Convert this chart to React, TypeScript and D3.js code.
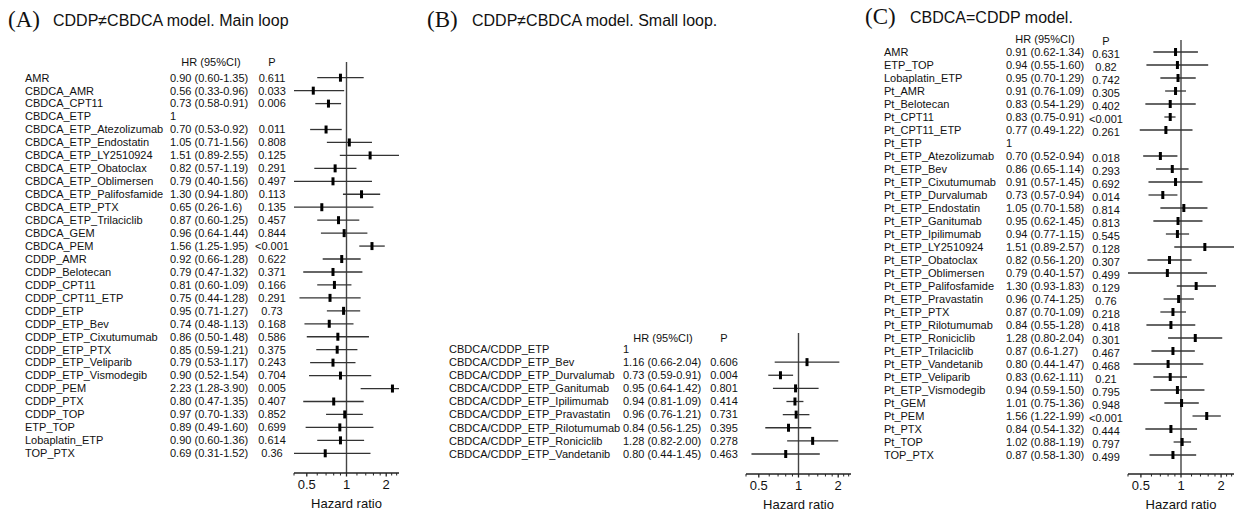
import React from "react";
import * as d3 from "d3";

// panel A: CDDP != CBDCA, main loop
const labelsA = [
  "AMR", "CBDCA_AMR", "CBDCA_CPT11", "CBDCA_ETP", "CBDCA_ETP_Atezolizumab",
  "CBDCA_ETP_Endostatin", "CBDCA_ETP_LY2510924", "CBDCA_ETP_Obatoclax",
  "CBDCA_ETP_Oblimersen", "CBDCA_ETP_Palifosfamide", "CBDCA_ETP_PTX",
  "CBDCA_ETP_Trilaciclib", "CBDCA_GEM", "CBDCA_PEM", "CDDP_AMR", "CDDP_Belotecan",
  "CDDP_CPT11", "CDDP_CPT11_ETP", "CDDP_ETP", "CDDP_ETP_Bev", "CDDP_ETP_Cixutumumab",
  "CDDP_ETP_PTX", "CDDP_ETP_Veliparib", "CDDP_ETP_Vismodegib", "CDDP_PEM",
  "CDDP_PTX", "CDDP_TOP", "ETP_TOP", "Lobaplatin_ETP", "TOP_PTX",
];
const hrA = [
  "0.90 (0.60-1.35)", "0.56 (0.33-0.96)", "0.73 (0.58-0.91)", "1", "0.70 (0.53-0.92)",
  "1.05 (0.71-1.56)", "1.51 (0.89-2.55)", "0.82 (0.57-1.19)", "0.79 (0.40-1.56)",
  "1.30 (0.94-1.80)", "0.65 (0.26-1.6)", "0.87 (0.60-1.25)", "0.96 (0.64-1.44)",
  "1.56 (1.25-1.95)", "0.92 (0.66-1.28)", "0.79 (0.47-1.32)", "0.81 (0.60-1.09)",
  "0.75 (0.44-1.28)", "0.95 (0.71-1.27)", "0.74 (0.48-1.13)", "0.86 (0.50-1.48)",
  "0.85 (0.59-1.21)", "0.79 (0.53-1.17)", "0.90 (0.52-1.54)", "2.23 (1.28-3.90)",
  "0.80 (0.47-1.35)", "0.97 (0.70-1.33)", "0.89 (0.49-1.60)", "0.90 (0.60-1.36)",
  "0.69 (0.31-1.52)",
];
const pA = [
  "0.611", "0.033", "0.006", "", "0.011", "0.808", "0.125", "0.291", "0.497", "0.113",
  "0.135", "0.457", "0.844", "<0.001", "0.622", "0.371", "0.166", "0.291", "0.73",
  "0.168", "0.586", "0.375", "0.243", "0.704", "0.005", "0.407", "0.852", "0.699",
  "0.614", "0.36",
];

// panel B: CDDP != CBDCA, small loop
const labelsB = [
  "CBDCA/CDDP_ETP", "CBDCA/CDDP_ETP_Bev", "CBDCA/CDDP_ETP_Durvalumab",
  "CBDCA/CDDP_ETP_Ganitumab", "CBDCA/CDDP_ETP_Ipilimumab", "CBDCA/CDDP_ETP_Pravastatin",
  "CBDCA/CDDP_ETP_Rilotumumab", "CBDCA/CDDP_ETP_Roniciclib", "CBDCA/CDDP_ETP_Vandetanib",
];
const hrB = [
  "1", "1.16 (0.66-2.04)", "0.73 (0.59-0.91)", "0.95 (0.64-1.42)", "0.94 (0.81-1.09)",
  "0.96 (0.76-1.21)", "0.84 (0.56-1.25)", "1.28 (0.82-2.00)", "0.80 (0.44-1.45)",
];
const pB = ["", "0.606", "0.004", "0.801", "0.414", "0.731", "0.395", "0.278", "0.463"];

// panel C: CBDCA = CDDP
const labelsC = [
  "AMR", "ETP_TOP", "Lobaplatin_ETP", "Pt_AMR", "Pt_Belotecan", "Pt_CPT11",
  "Pt_CPT11_ETP", "Pt_ETP", "Pt_ETP_Atezolizumab", "Pt_ETP_Bev", "Pt_ETP_Cixutumumab",
  "Pt_ETP_Durvalumab", "Pt_ETP_Endostatin", "Pt_ETP_Ganitumab", "Pt_ETP_Ipilimumab",
  "Pt_ETP_LY2510924", "Pt_ETP_Obatoclax", "Pt_ETP_Oblimersen", "Pt_ETP_Palifosfamide",
  "Pt_ETP_Pravastatin", "Pt_ETP_PTX", "Pt_ETP_Rilotumumab", "Pt_ETP_Roniciclib",
  "Pt_ETP_Trilaciclib", "Pt_ETP_Vandetanib", "Pt_ETP_Veliparib", "Pt_ETP_Vismodegib",
  "Pt_GEM", "Pt_PEM", "Pt_PTX", "Pt_TOP", "TOP_PTX",
];
const hrC = [
  "0.91 (0.62-1.34)", "0.94 (0.55-1.60)", "0.95 (0.70-1.29)", "0.91 (0.76-1.09)",
  "0.83 (0.54-1.29)", "0.83 (0.75-0.91)", "0.77 (0.49-1.22)", "1", "0.70 (0.52-0.94)",
  "0.86 (0.65-1.14)", "0.91 (0.57-1.45)", "0.73 (0.57-0.94)", "1.05 (0.70-1.58)",
  "0.95 (0.62-1.45)", "0.94 (0.77-1.15)", "1.51 (0.89-2.57)", "0.82 (0.56-1.20)",
  "0.79 (0.40-1.57)", "1.30 (0.93-1.83)", "0.96 (0.74-1.25)", "0.87 (0.70-1.09)",
  "0.84 (0.55-1.28)", "1.28 (0.80-2.04)", "0.87 (0.6-1.27)", "0.80 (0.44-1.47)",
  "0.83 (0.62-1.11)", "0.94 (0.59-1.50)", "1.01 (0.75-1.36)", "1.56 (1.22-1.99)",
  "0.84 (0.54-1.32)", "1.02 (0.88-1.19)", "0.87 (0.58-1.30)",
];
const pC = [
  "0.631", "0.82", "0.742", "0.305", "0.402", "<0.001", "0.261", "", "0.018", "0.293",
  "0.692", "0.014", "0.814", "0.813", "0.545", "0.128", "0.307", "0.499", "0.129",
  "0.76", "0.218", "0.418", "0.301", "0.467", "0.468", "0.21", "0.795", "0.948",
  "<0.001", "0.444", "0.797", "0.499",
];

const axisDomain = [0.4, 2.5];
const majorTicks = [0.5, 1, 2];
const majorTickLabels = ["0.5", "1", "2"];
const minorTicks = [0.4, 0.6, 0.7, 0.8, 0.9, 1.2, 1.4, 1.6, 1.8, 2.2, 2.4];

const SANS = "'Liberation Sans', Arial, sans-serif";
const SERIF = "'Liberation Serif', 'Times New Roman', serif";
const INK = "#111";

function parseHr(s: string) {
  const m = s.match(/^([\d.]+) \(([\d.]+)-([\d.]+)\)$/);
  if (!m) return null;
  return { hr: +m[1], lo: +m[2], hi: +m[3] };
}

type PanelProps = {
  tag: string;
  title: string;
  titleX: number;
  titleY: number;
  labels: string[];
  hr: string[];
  p: string[];
  labelX: number;
  hrX: number;
  pX: number;
  pDy: number;
  headY: number;
  hrHeadX: number;
  firstY: number;
  lastY: number;
  plotX0: number;
  plotX1: number;
  refTop: number;
  axisY: number;
};

const Panel = (o: PanelProps) => {
  const x = d3.scaleLog().domain(axisDomain).range([o.plotX0, o.plotX1]).clamp(true);
  const y = d3
    .scalePoint<number>()
    .domain(d3.range(o.labels.length))
    .range([o.firstY, o.lastY]);

  return (
    <g>
      <text x={o.titleX} y={o.titleY} fontFamily={SERIF} fontSize={23} fill={INK}>
        {o.tag}
      </text>
      <text x={o.titleX + 45} y={o.titleY - 1} fontFamily={SANS} fontSize={16} fill={INK}>
        {o.title}
      </text>

      <g fontFamily={SANS} fontSize={11} fill={INK}>
        <text x={o.hrHeadX} y={o.headY} dy="0.35em" textAnchor="middle">HR (95%CI)</text>
        <text x={o.pX} y={o.headY + o.pDy} dy="0.35em" textAnchor="middle">P</text>
        {o.labels.map((l, i) => (
          <g key={l}>
            <text x={o.labelX} y={y(i)} dy="0.35em">{l}</text>
            <text x={o.hrX} y={y(i)} dy="0.35em">{o.hr[i]}</text>
            <text x={o.pX} y={(y(i) as number) + o.pDy} dy="0.35em" textAnchor="middle">
              {o.p[i]}
            </text>
          </g>
        ))}
      </g>

      {/* reference line at HR = 1 */}
      <line x1={x(1)} x2={x(1)} y1={o.refTop} y2={o.axisY} stroke="#444" strokeWidth={1.4} />

      {o.hr.map((s, i) => {
        const d = parseHr(s);
        if (!d) return null;
        const cy = y(i) as number;
        return (
          <g key={i}>
            <line x1={x(d.lo)} x2={x(d.hi)} y1={cy} y2={cy} stroke="#333" strokeWidth={1.3} />
            <rect x={x(d.hr) - 1.5} y={cy - 4} width={3} height={8} fill="#000" />
          </g>
        );
      })}

      {/* axis */}
      <g stroke="#222" strokeWidth={1.3}>
        <line x1={o.plotX0} x2={o.plotX1} y1={o.axisY} y2={o.axisY} />
        {majorTicks.map((t) => (
          <line key={t} x1={x(t)} x2={x(t)} y1={o.axisY} y2={o.axisY + 3.5} />
        ))}
        {minorTicks.map((t) => (
          <line key={t} x1={x(t)} x2={x(t)} y1={o.axisY} y2={o.axisY + 2.5} strokeWidth={1} />
        ))}
      </g>
      <g fontFamily={SANS} fontSize={13} fill={INK} textAnchor="middle">
        {majorTicks.map((t, i) => (
          <text key={t} x={x(t)} y={o.axisY + 16}>{majorTickLabels[i]}</text>
        ))}
        <text x={x(1)} y={o.axisY + 35}>Hazard ratio</text>
      </g>
    </g>
  );
};

export default function App() {
  return (
    <svg
      width={1236}
      height={514}
      style={{ position: "absolute", left: 0, top: 0, background: "#fff" }}
    >
      <Panel
        tag="(A)" title="CDDP≠CBDCA model. Main loop" titleX={8} titleY={27}
        labels={labelsA} hr={hrA} p={pA}
        labelX={25} hrX={170} pX={272} pDy={0} headY={62} hrHeadX={211}
        firstY={77.7} lastY={453.3}
        plotX0={294} plotX1={399} refTop={62} axisY={473}
      />
      <Panel
        tag="(B)" title="CDDP≠CBDCA model. Small loop." titleX={427} titleY={27}
        labels={labelsB} hr={hrB} p={pB}
        labelX={449} hrX={623} pX={724} pDy={0} headY={338} hrHeadX={663}
        firstY={349} lastY={454}
        plotX0={746} plotX1={851} refTop={333} axisY={474}
      />
      <Panel
        tag="(C)" title="CBDCA=CDDP model." titleX={865} titleY={24}
        labels={labelsC} hr={hrC} p={pC}
        labelX={884} hrX={1006} pX={1106} pDy={2} headY={39} hrHeadX={1045}
        firstY={52} lastY={455}
        plotX0={1128} plotX1={1234} refTop={40} axisY={474}
      />
    </svg>
  );
}
